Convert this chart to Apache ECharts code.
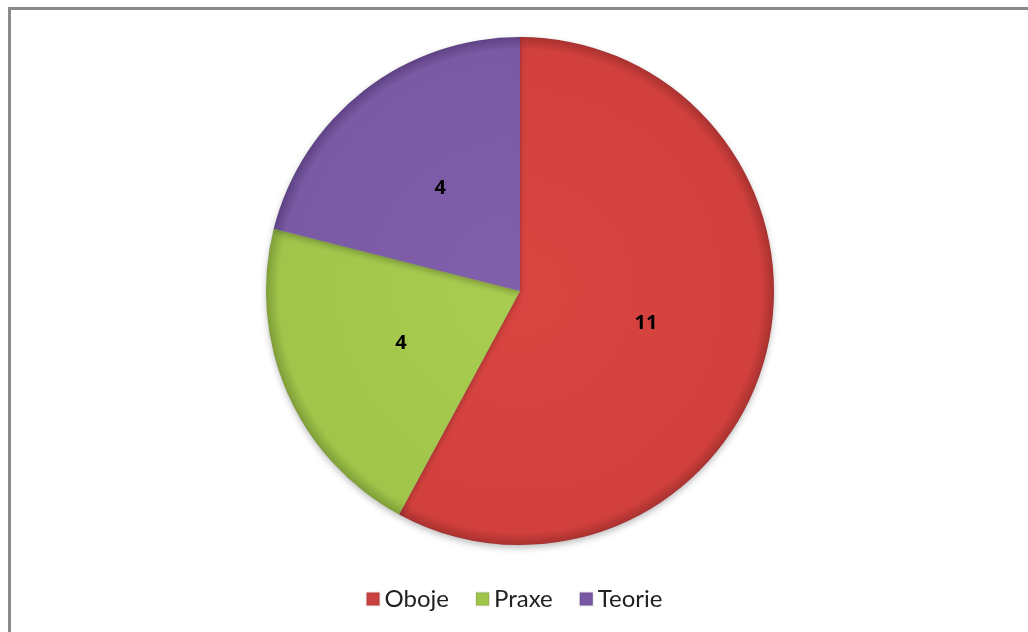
<!DOCTYPE html>
<html><head><meta charset="utf-8">
<script src="https://cdn.jsdelivr.net/npm/echarts@6/dist/echarts.min.js"></script>
<style>
html,body{margin:0;padding:0;background:#fff;overflow:hidden;}
#frame{position:absolute;left:8px;top:7px;width:1040px;height:660px;border-left:3px solid #8a8a8a;border-top:3px solid #8a8a8a;box-sizing:border-box;}
#c{position:absolute;left:0;top:0;width:1028px;height:632px;}
</style></head>
<body>
<div id="frame"></div>
<div id="c"></div>
<script>
var categories = ['Oboje', 'Praxe', 'Teorie'];
var values = [11, 4, 4];
var colors = [
  ['#da4541', '#d2403d', '#a83230'],
  ['#a9cd50', '#a0c54a', '#7f9e38'],
  ['#8060aa', '#7a5aa4', '#5e4284']
];
var legendColors = ['#c9413e', '#9fc44a', '#7857a3'];

var chart = echarts.init(document.getElementById('c'));
var data = categories.map(function(name, i){
  return {
    name: name,
    value: values[i],
    itemStyle: {
      color: {
        type: 'radial', x: 520, y: 291, r: 254, global: true,
        colorStops: [
          {offset: 0, color: colors[i][0]},
          {offset: 0.95, color: colors[i][1]},
          {offset: 1, color: colors[i][2]}
        ]
      }
    }
  };
});
chart.setOption({
  animation: false,
  legend: {
    bottom: 16,
    left: 'center',
    itemWidth: 13,
    itemHeight: 13,
    itemGap: 26,
    icon: 'rect',
    textStyle: {fontFamily: 'Lato', fontSize: 24, color: '#222'},
    data: categories.map(function(n, i){ return {name: n, itemStyle: {color: legendColors[i]}}; })
  },
  series: [{
    type: 'pie',
    center: [520, 291],
    radius: [0, 254],
    startAngle: 90,
    clockwise: true,
    label: {
      show: true,
      position: 'inside',
      formatter: '{c}',
      fontFamily: 'Open Sans',
      fontWeight: 'bold',
      fontSize: 20,
      color: '#000'
    },
    labelLine: {show: false},
    itemStyle: {borderColor: 'rgba(0,0,0,0.08)', borderWidth: 0.5, shadowBlur: 6, shadowOffsetY: 3, shadowColor: 'rgba(0,0,0,0.25)'},
    emphasis: {disabled: true},
    data: data
  }]
});
</script>
</body></html>
